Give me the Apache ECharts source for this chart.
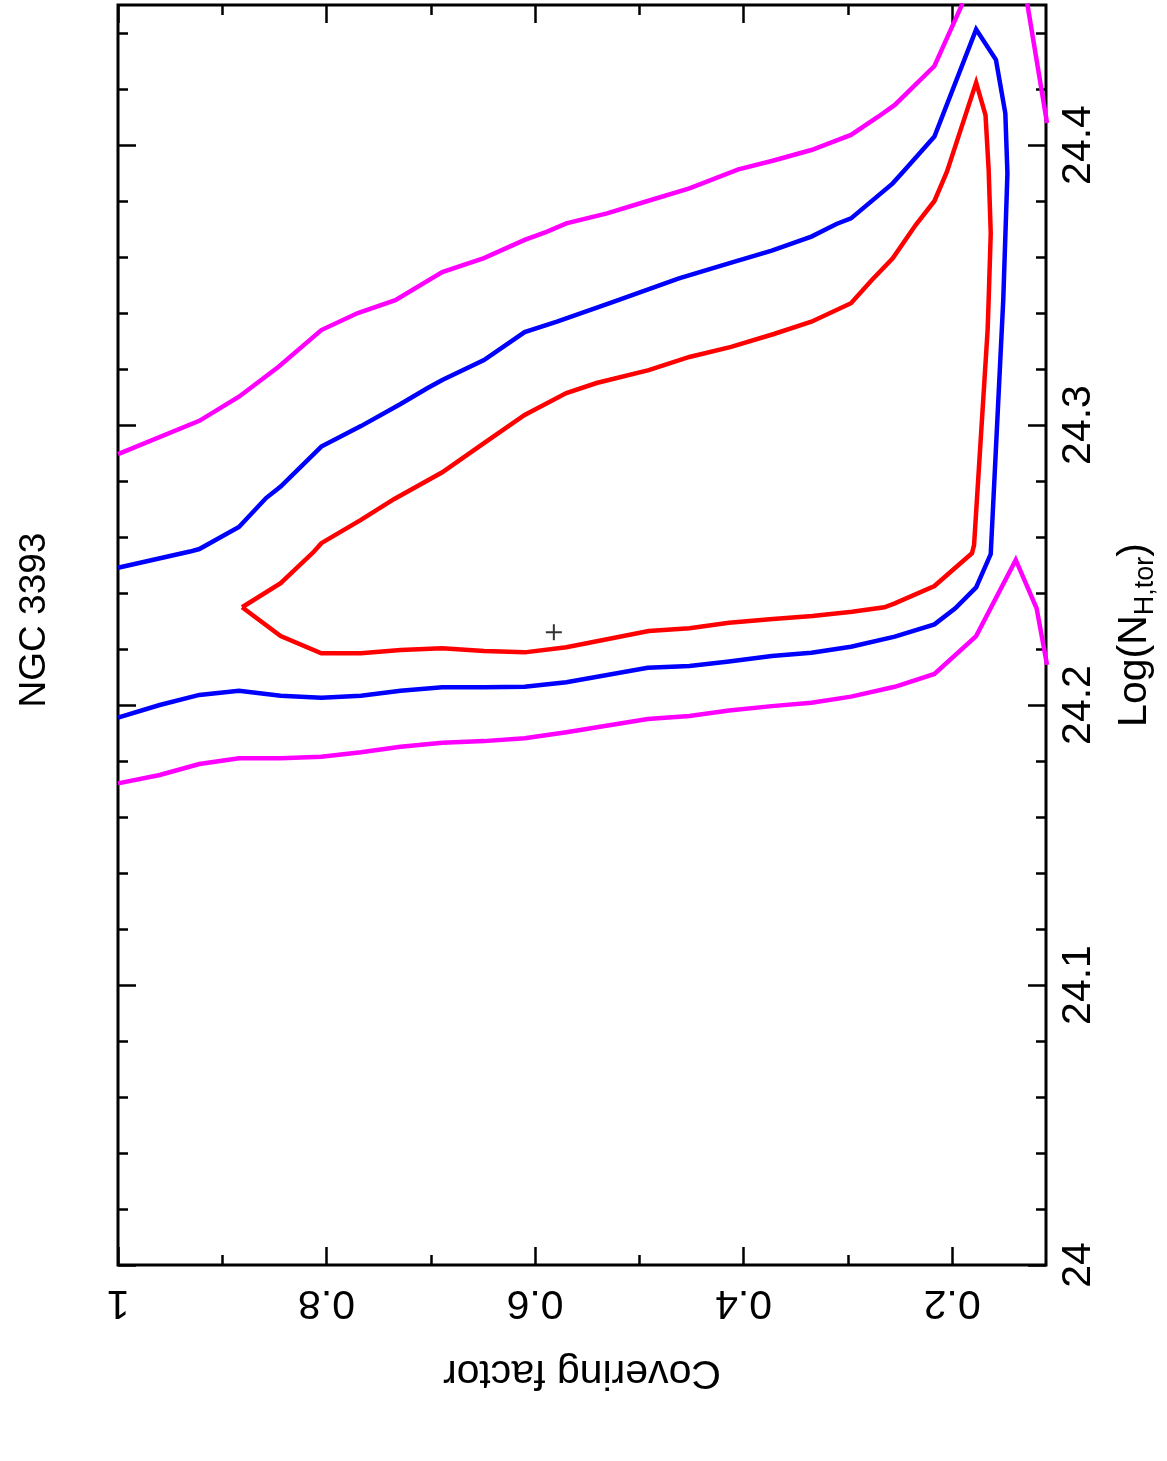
<!DOCTYPE html>
<html>
<head>
<meta charset="utf-8">
<script src="https://cdn.jsdelivr.net/npm/echarts@6/dist/echarts.min.js"></script>
<style>
  html, body { margin: 0; padding: 0; background: #fff; overflow: hidden; }
  #chart { width: 1167px; height: 1461px; }
</style>
</head>
<body>
<div id="chart"></div>
<script>
// covering factor (x) / log NH (y) pairs
var redCf = [0.881, 0.844, 0.805, 0.767, 0.729, 0.689, 0.649, 0.610, 0.570, 0.491, 0.452, 0.414, 0.372, 0.334, 0.296, 0.265, 0.255, 0.217, 0.181, 0.179, 0.166, 0.165, 0.163, 0.165, 0.168, 0.177, 0.205, 0.217, 0.235, 0.257, 0.277, 0.297, 0.335, 0.371, 0.412, 0.452, 0.491, 0.541, 0.570, 0.610, 0.649, 0.689, 0.735, 0.767, 0.805, 0.812, 0.844, 0.881]
var redNh = [24.2349, 24.2246, 24.2185, 24.2185, 24.2196, 24.2203, 24.2193, 24.2188, 24.2206, 24.2264, 24.2274, 24.2294, 24.2307, 24.2318, 24.2333, 24.2349, 24.2363, 24.2425, 24.2542, 24.2571, 24.3339, 24.3446, 24.3685, 24.3911, 24.4107, 24.4223, 24.3905, 24.3800, 24.3714, 24.3595, 24.3518, 24.3435, 24.3369, 24.3325, 24.3279, 24.3243, 24.3196, 24.3150, 24.3114, 24.3036, 24.2935, 24.2831, 24.2736, 24.2661, 24.2578, 24.2548, 24.2435, 24.2349]

var blueCf = [1.0, 0.96, 0.922, 0.884, 0.844, 0.805, 0.767, 0.729, 0.689, 0.649, 0.610, 0.570, 0.492, 0.452, 0.414, 0.373, 0.335, 0.297, 0.255, 0.217, 0.197, 0.177, 0.163, 0.151, 0.147, 0.149, 0.158, 0.177, 0.217, 0.244, 0.257, 0.297, 0.311, 0.335, 0.373, 0.411, 0.462, 0.525, 0.579, 0.610, 0.649, 0.689, 0.703, 0.729, 0.767, 0.805, 0.844, 0.858, 0.884, 0.922, 0.931, 1.0]
var blueNh = [24.1955, 24.2000, 24.2036, 24.2051, 24.2033, 24.2026, 24.2033, 24.2051, 24.2063, 24.2063, 24.2065, 24.2081, 24.2133, 24.2139, 24.2155, 24.2175, 24.2187, 24.2208, 24.2244, 24.2288, 24.2345, 24.2420, 24.2539, 24.3446, 24.3899, 24.4113, 24.4304, 24.4413, 24.4030, 24.3917, 24.3863, 24.3738, 24.3718, 24.3673, 24.3623, 24.3581, 24.3524, 24.3440, 24.3369, 24.3332, 24.3232, 24.3161, 24.3132, 24.3075, 24.2996, 24.2923, 24.2780, 24.2739, 24.2636, 24.2557, 24.2548, 24.2490]

var magLoCf = [1.0, 0.96, 0.922, 0.884, 0.844, 0.805, 0.767, 0.729, 0.689, 0.649, 0.610, 0.570, 0.492, 0.452, 0.414, 0.373, 0.335, 0.297, 0.255, 0.217, 0.177, 0.139, 0.119, 0.109]
var magLoNh = [24.1720, 24.1750, 24.1789, 24.1810, 24.1810, 24.1815, 24.1831, 24.1851, 24.1865, 24.1871, 24.1881, 24.1903, 24.1950, 24.1961, 24.1980, 24.1996, 24.2008, 24.2030, 24.2065, 24.2111, 24.2246, 24.2518, 24.2345, 24.2143]

var magUpCf = [1.0, 0.922, 0.884, 0.846, 0.805, 0.770, 0.734, 0.689, 0.649, 0.610, 0.589, 0.570, 0.531, 0.492, 0.452, 0.405, 0.373, 0.335, 0.297, 0.271, 0.255, 0.217, 0.190]
var magUpNh = [24.2896, 24.3015, 24.3101, 24.3208, 24.3339, 24.3400, 24.3446, 24.3546, 24.3596, 24.3661, 24.3690, 24.3720, 24.3756, 24.3800, 24.3845, 24.3913, 24.3943, 24.3982, 24.4036, 24.4101, 24.4143, 24.4282, 24.4506]

var magTipCf = [0.128, 0.109]
var magTipNh = [24.4506, 24.4078]

var bestFit = [0.582, 24.226]

// ticks
var cfMajor = [0.2, 0.4, 0.6, 0.8, 1]
var cfMinor = [0.3, 0.5, 0.7, 0.9]
var nhMajor = [24, 24.1, 24.2, 24.3, 24.4]
var nhMinor = [24.02, 24.04, 24.06, 24.08, 24.12, 24.14, 24.16, 24.18, 24.22, 24.24, 24.26, 24.28, 24.32, 24.34, 24.36, 24.38, 24.42, 24.44]

var FONT = 'Liberation Sans, Arial, Helvetica, sans-serif'

function zip(a, b) {
  var out = []
  for (var i = 0; i < a.length; i++) out.push([a[i], b[i]])
  return out
}

function contour(name, color, cf, nh) {
  return {
    name: name,
    type: 'line',
    data: zip(cf, nh),
    showSymbol: false,
    symbol: 'none',
    clip: true,
    lineStyle: { color: color, width: 4.5, join: 'miter' },
    z: 3
  }
}

function xAx(pos, vals, len, labels) {
  return {
    type: 'value', position: pos, inverse: true, min: 0.11, max: 1,
    axisLine: { show: false }, splitLine: { show: false },
    axisTick: { show: true, inside: true, length: len, customValues: vals, lineStyle: { color: '#000', width: 2.5 } },
    axisLabel: labels ? {
      show: true, customValues: vals, rotate: 180, margin: 17,
      fontSize: 41, fontFamily: FONT, color: '#000'
    } : { show: false }
  }
}

function yAx(pos, vals, len, labels) {
  return {
    type: 'value', position: pos, min: 24, max: 24.45,
    axisLine: { show: false }, splitLine: { show: false },
    axisTick: { show: true, inside: true, length: len, customValues: vals, lineStyle: { color: '#000', width: 2.5 } },
    axisLabel: labels ? {
      show: true, customValues: vals, rotate: 90, margin: 12,
      fontSize: 41, fontFamily: FONT, color: '#000'
    } : { show: false }
  }
}

var chart = echarts.init(document.getElementById('chart'), null, { renderer: 'canvas', width: 1167, height: 1461 })

var xs = [xAx('bottom', cfMajor, 18, true), xAx('bottom', cfMinor, 10), xAx('top', cfMajor, 18), xAx('top', cfMinor, 10)]
xs[0].name = 'Covering factor'
xs[0].nameLocation = 'middle'
xs[0].nameRotate = 180
xs[0].nameGap = 87
xs[0].nameTextStyle = { fontSize: 41, fontFamily: FONT, color: '#000' }

var ys = [yAx('right', nhMajor, 18, true), yAx('right', nhMinor, 10), yAx('left', nhMajor, 18), yAx('left', nhMinor, 10)]
ys[0].name = '{a|Log(N}{s|H,tor}{a|)}'
ys[0].nameLocation = 'middle'
ys[0].nameRotate = 90
ys[0].nameGap = 64
ys[0].nameTextStyle = {
  fontFamily: FONT, color: '#000',
  rich: {
    a: { fontSize: 41, fontFamily: FONT, color: '#000' },
    s: { fontSize: 27, fontFamily: FONT, color: '#000', padding: [22, 0, 0, 0] }
  }
}

chart.setOption({
  animation: false,
  backgroundColor: '#fff',
  grid: { left: 118, right: 114, top: 5, bottom: 196, show: true, borderColor: '#000', borderWidth: 3, backgroundColor: 'transparent' },
  xAxis: xs,
  yAxis: ys,
  graphic: [{
    type: 'text', x: 35, y: 620, rotation: Math.PI / 2,
    style: { text: 'NGC 3393', fontSize: 37, fontFamily: FONT, fill: '#000', align: 'center', verticalAlign: 'middle' }
  }],
  series: [
    contour('magenta-upper', '#ff00ff', magUpCf, magUpNh),
    contour('magenta-lower', '#ff00ff', magLoCf, magLoNh),
    contour('magenta-corner', '#ff00ff', magTipCf, magTipNh),
    contour('blue', '#0000ff', blueCf, blueNh),
    contour('red', '#ff0000', redCf, redNh),
    {
      type: 'scatter', data: [bestFit],
      symbol: 'path://M7,0H9V7H16V9H9V16H7V9H0V7H7Z', symbolSize: 16,
      itemStyle: { color: '#000' }, z: 4
    }
  ]
})
</script>
</body>
</html>
